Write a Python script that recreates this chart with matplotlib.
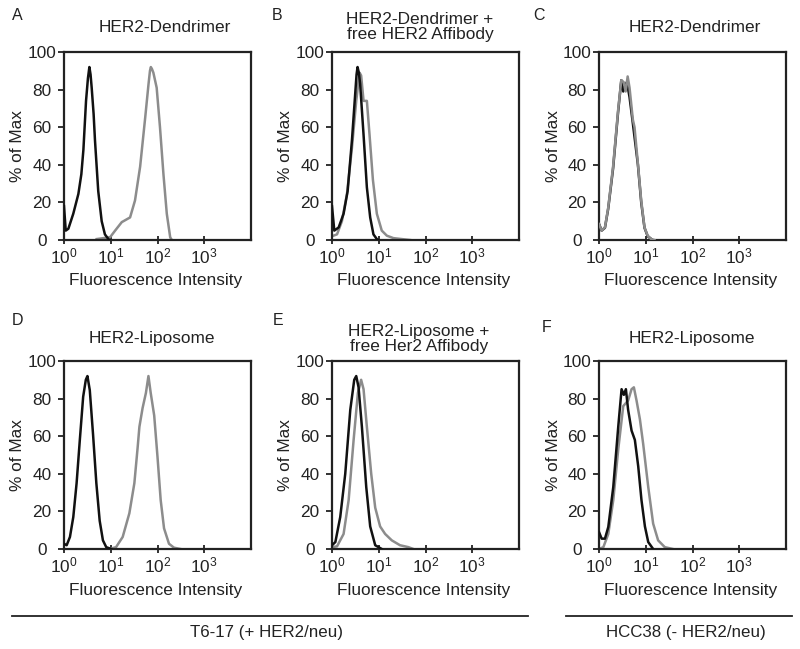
import matplotlib
matplotlib.use("Agg")
import matplotlib.pyplot as plt
from matplotlib.ticker import LogLocator, NullFormatter, FixedLocator
from matplotlib.lines import Line2D

plt.rcParams['font.family'] = ['Liberation Sans', 'DejaVu Sans']
plt.rcParams['mathtext.fontset'] = 'custom'
plt.rcParams['mathtext.rm'] = 'Liberation Sans'
plt.rcParams['mathtext.it'] = 'Liberation Sans:italic'
plt.rcParams['mathtext.bf'] = 'Liberation Sans:bold'

# ---------------- data ----------------
panel_letters = ["A", "B", "C", "D", "E", "F"]
panel_titles = ["HER2-Dendrimer", "HER2-Dendrimer +\nfree HER2 Affibody", "HER2-Dendrimer",
                "HER2-Liposome", "HER2-Liposome +\nfree Her2 Affibody", "HER2-Liposome"]
y_label = "% of Max"
x_label = "Fluorescence Intensity"
group_labels = ["T6-17 (+ HER2/neu)", "HCC38 (- HER2/neu)"]
x_ticks = [1, 10, 100, 1000]
y_ticks = [0, 20, 40, 60, 80, 100]

# Panel A
a_black_x = [1.0, 1.09, 1.24, 1.58, 2.03, 2.35, 2.6, 2.96, 3.25, 3.49, 3.7, 3.91, 4.3, 4.6, 5.4, 6.4, 7.5, 8.9, 9.5]
a_black_y = [18, 5, 6, 14, 24.5, 35, 48, 74, 86, 92, 88, 81, 67, 53, 26, 10, 3, 0.5, 0]
a_gray_x = [5.0, 9.7, 12.4, 17.2, 25.9, 33, 42.5, 54.5, 64.3, 69, 72, 76, 81.6, 96, 113, 134, 158, 187, 203]
a_gray_y = [0.5, 1.5, 5, 9.5, 12, 21, 39, 65, 83, 90, 92, 91, 89, 81, 60, 35, 14, 1.4, 0]

# Panel B
b_black_x = [1.0, 1.12, 1.39, 1.77, 2.16, 2.67, 3.14, 3.35, 3.52, 3.75, 4.0, 4.73, 5.57, 6.56, 7.7, 9.1, 9.8]
b_black_y = [18, 5, 6.7, 14, 26, 53, 78, 88, 92, 89, 83, 56, 28, 12, 3, 0.5, 0]
b_gray_x = [1.0, 1.28, 1.63, 2.09, 2.67, 3.3, 3.89, 4.2, 4.73, 5.57, 6.35, 7.5, 9.1, 11.6, 14.9, 20.6, 33.7, 46.8]
b_gray_y = [2, 3, 10, 24.5, 49, 74, 89, 87.5, 74, 74, 56, 32, 14, 5, 2.3, 1, 0.4, 0]

# Panel C
c_black_x = [1.0, 1.14, 1.34, 1.57, 2.0, 2.56, 3.0, 3.3, 3.6, 3.95, 4.5, 5.3, 6.8, 8.0, 9.4, 11, 14]
c_black_y = [8.5, 5, 6.5, 16.5, 38, 68, 85, 79, 82, 84, 76, 62, 40, 20, 6.5, 2, 0]
c_gray_x = [1.0, 1.14, 1.34, 1.57, 2.0, 2.56, 3.0, 3.37, 3.72, 4.1, 4.5, 5.3, 5.75, 6.8, 8.0, 9.4, 11, 13, 15.3]
c_gray_y = [8.5, 5, 6.7, 17, 39, 69, 85, 84, 79, 87, 81, 64, 60, 40.5, 21, 6.7, 2.3, 0.5, 0]

# Panel D
d_black_x = [1.0, 1.14, 1.34, 1.58, 1.86, 2.18, 2.57, 2.93, 3.17, 3.56, 4.18, 4.92, 5.8, 6.8, 8.0, 10.2]
d_black_y = [2.8, 2, 6.4, 17, 35, 58, 81, 90, 92, 84.5, 61, 35, 15, 4.6, 1, 0]
d_gray_x = [9.4, 13, 18, 25, 32, 37.6, 41, 48, 56.5, 64, 71.6, 85, 100, 117, 138, 176, 225, 310]
d_gray_y = [0, 1, 6.4, 19, 35, 54, 65, 75, 83, 92, 83, 71, 49, 26, 11, 2.8, 0.7, 0]

# Panel E
e_black_x = [1.0, 1.18, 1.5, 1.92, 2.46, 2.99, 3.3, 3.7, 4.36, 5.4, 6.56, 8.4, 11.6]
e_black_y = [2, 3.7, 17, 40, 74, 90, 92, 86, 65, 33, 12, 2, 0]
e_gray_x = [1.0, 1.28, 1.77, 2.27, 2.9, 3.58, 4.2, 4.73, 5.57, 6.9, 8.4, 10.7, 13.7, 19, 28.5, 43, 55]
e_gray_y = [1, 1.4, 8, 26, 58, 83, 90, 85, 65, 40, 22, 12, 8, 4.6, 2, 1, 0]

# Panel F
f_black_x = [1.0, 1.14, 1.34, 1.58, 2.02, 2.58, 3.04, 3.4, 3.76, 4.2, 4.97, 5.85, 6.9, 8.1, 9.6, 11.3, 14.4]
f_black_y = [9, 5.5, 5.5, 11.7, 33, 65, 85, 82, 85, 74, 63, 58, 44, 26, 12, 3.7, 0]
f_gray_x = [1.0, 1.24, 1.58, 2.02, 2.58, 3.3, 4.2, 4.97, 5.57, 6.35, 7.5, 8.8, 11.3, 14.4, 18.4, 25.5, 38]
f_gray_y = [0, 1, 8, 26, 53, 76, 79, 85, 86, 79, 69, 56, 33, 13.5, 4.6, 1, 0]

black_series = [(a_black_x, a_black_y), (b_black_x, b_black_y), (c_black_x, c_black_y),
                (d_black_x, d_black_y), (e_black_x, e_black_y), (f_black_x, f_black_y)]
gray_series = [(a_gray_x, a_gray_y), (b_gray_x, b_gray_y), (c_gray_x, c_gray_y),
               (d_gray_x, d_gray_y), (e_gray_x, e_gray_y), (f_gray_x, f_gray_y)]

# ---------------- layout ----------------
W, H = 800, 649
fig = plt.figure(figsize=(W / 100, H / 100), dpi=100)

def fx(px):
    return px / W

def fy(py):
    return 1 - py / H

col_left = [64, 332, 599]
row_top = [52, 361]
ax_w, ax_h = 187, 188

letter_pos = [(12, 16), (272, 16), (533, 16), (12, 320), (273, 320), (542, 328)]
title_pos = [(165, 28), (420, 27), (695, 28), (152, 338), (419, 339), (692, 339)]

BLACK = "#111111"
GRAY = "#8c8c8c"
TXT = "#222222"
FS = 12.4

for i in range(6):
    r, c = divmod(i, 3)
    left, top = col_left[c], row_top[r]
    ax = fig.add_axes([fx(left), fy(top + ax_h), ax_w / W, ax_h / H])
    gx, gy = gray_series[i]
    bx, by = black_series[i]
    if i == 2:
        ax.plot(bx, by, color=BLACK, lw=1.8, zorder=2, solid_joinstyle='round')
        ax.plot(gx, gy, color=GRAY, lw=1.8, zorder=3, solid_joinstyle='round')
    else:
        ax.plot(gx, gy, color=GRAY, lw=1.8, zorder=2, solid_joinstyle='round')
        ax.plot(bx, by, color=BLACK, lw=1.8, zorder=3, solid_joinstyle='round')
    ax.set_xscale('log')
    ax.set_xlim(1, 1e4)
    ax.set_ylim(0, 100)
    ax.xaxis.set_major_locator(FixedLocator(x_ticks))
    ax.xaxis.set_minor_locator(LogLocator(base=10, subs=range(2, 10)))
    ax.xaxis.set_minor_formatter(NullFormatter())
    ax.set_yticks(y_ticks)
    ax.tick_params(axis='x', which='major', direction='inout', length=6, width=1.3,
                   labelsize=FS, pad=2, colors=TXT)
    ax.tick_params(axis='x', which='minor', direction='in', length=3, width=1.1)
    ax.tick_params(axis='y', which='major', direction='out', length=4, width=1.3,
                   labelsize=FS, pad=12.0, colors=TXT)
    for lbl in ax.get_yticklabels():
        lbl.set_horizontalalignment('center')
    for s in ax.spines.values():
        s.set_linewidth(1.6)
        s.set_color(TXT)
    # labels
    fig.text(fx(left + ax_w / 2 - 2), fy(top + ax_h + 41), x_label, ha='center', va='center',
             fontsize=FS, color=TXT)
    fig.text(fx(left - 46), fy(top + ax_h / 2), y_label, ha='center', va='center',
             rotation=90, fontsize=FS, color=TXT)
    lx, ly = letter_pos[i]
    fig.text(fx(lx), fy(ly), panel_letters[i], ha='left', va='center', fontsize=11.5, color=TXT)
    tx, ty = title_pos[i]
    fig.text(fx(tx), fy(ty), panel_titles[i], ha='center', va='center', fontsize=FS,
             color=TXT, linespacing=1.05)

# group lines and labels
fig.add_artist(Line2D([fx(12), fx(528)], [fy(616), fy(616)], color=TXT, lw=1.3))
fig.add_artist(Line2D([fx(566), fx(792)], [fy(616), fy(616)], color=TXT, lw=1.3))
fig.text(fx(266), fy(633), group_labels[0], ha='center', va='center', fontsize=12.2, color=TXT)
fig.text(fx(686), fy(633), group_labels[1], ha='center', va='center', fontsize=12.2, color=TXT)

fig.savefig("out.png", dpi=100)
